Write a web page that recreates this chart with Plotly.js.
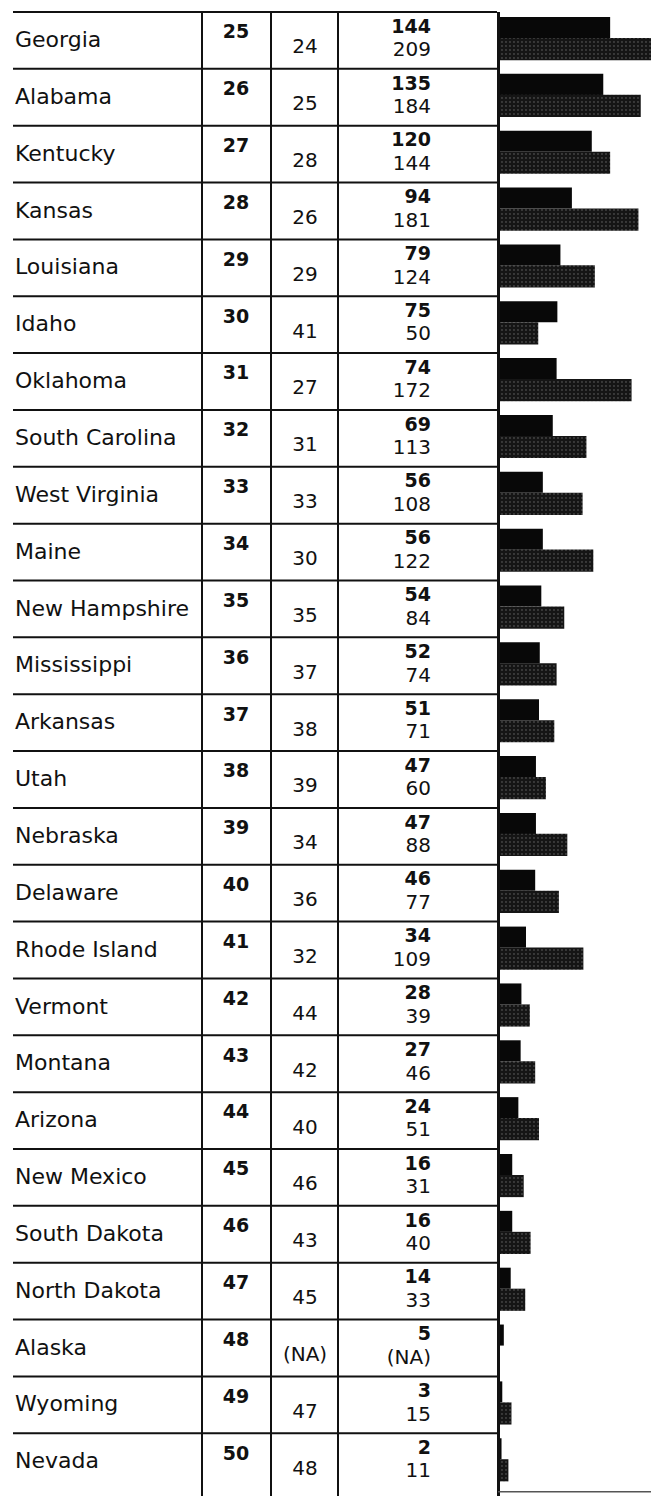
<!DOCTYPE html>
<html>
<head>
<meta charset="utf-8">
<script src="https://cdn.plot.ly/plotly-3.0.1.min.js"></script>
<style>
  html, body { margin: 0; padding: 0; background: #ffffff; }
  #chart { width: 651px; height: 1496px; }
</style>
</head>
<body>
<div id="chart"></div>
<script>
// ---------------- DATA ----------------
const states = ["Georgia", "Alabama", "Kentucky", "Kansas", "Louisiana", "Idaho", "Oklahoma",
  "South Carolina", "West Virginia", "Maine", "New Hampshire", "Mississippi", "Arkansas", "Utah",
  "Nebraska", "Delaware", "Rhode Island", "Vermont", "Montana", "Arizona", "New Mexico",
  "South Dakota", "North Dakota", "Alaska", "Wyoming", "Nevada"];
const rank = [25, 26, 27, 28, 29, 30, 31, 32, 33, 34, 35, 36, 37, 38, 39, 40, 41, 42, 43, 44, 45, 46, 47, 48, 49, 50];
const prevRank = [24, 25, 28, 26, 29, 41, 27, 31, 33, 30, 35, 37, 38, 39, 34, 36, 32, 44, 42, 40, 46, 43, 45, null, 47, 48];
const current = [144, 135, 120, 94, 79, 75, 74, 69, 56, 56, 54, 52, 51, 47, 47, 46, 34, 28, 27, 24, 16, 16, 14, 5, 3, 2];
const previous = [209, 184, 144, 181, 124, 50, 172, 113, 108, 122, 84, 74, 71, 60, 88, 77, 109, 39, 46, 51, 31, 40, 33, null, 15, 11];

// ---------------- BUILD ----------------
const n = states.length;
const idx = states.map((_, i) => i);
const fmt = v => (v === null ? "(NA)" : String(v));
const INK = "#111111";
const FONT = "DejaVu Sans, Arial, sans-serif";

function textTrace(xPos, yShift, labels, pos, size, weight) {
  return {
    type: "scatter", mode: "text", xaxis: "x", yaxis: "y",
    x: idx.map(() => xPos), y: idx.map(i => i + yShift),
    text: labels, textposition: pos, cliponaxis: false, hoverinfo: "skip",
    textfont: { family: FONT, size: size, color: INK, weight: weight }
  };
}

const traces = [
  { type: "bar", orientation: "h", x: current, y: idx, xaxis: "x2", yaxis: "y",
    width: 0.37, offset: -0.412, hoverinfo: "skip",
    marker: { color: "#080808", line: { width: 0 } } },
  { type: "bar", orientation: "h", x: previous, y: idx, xaxis: "x2", yaxis: "y",
    width: 0.39, offset: -0.043, hoverinfo: "skip",
    marker: { color: "#1a1a1a", line: { width: 0 },
      pattern: { shape: ".", fgcolor: "#6e6e6e", bgcolor: "#151515", size: 4, solidity: 0.1 } } },
  textTrace(15, 0.02, states, "middle right", 22, 400),
  textTrace(236, -0.12, rank.map(fmt), "middle center", 19, 700),
  textTrace(305, 0.14, prevRank.map(fmt), "middle center", 20, 400),
  textTrace(431, -0.22, current.map(fmt), "middle left", 19, 700),
  textTrace(431, 0.19, previous.map(fmt), "middle left", 20, 400)
];

// table rules
const shapes = [];
const yBottom = 25.62;
for (let i = 0; i < n; i++) {
  shapes.push({ type: "line", xref: "x", yref: "y", x0: 13, x1: 497, y0: i - 0.5, y1: i - 0.5,
    line: { color: INK, width: 2 }, layer: "above" });
}
[202, 271, 338].forEach(xv => shapes.push({ type: "line", xref: "x", yref: "y",
  x0: xv, x1: xv, y0: -0.5, y1: yBottom, line: { color: INK, width: 2 }, layer: "above" }));
shapes.push({ type: "line", xref: "x", yref: "y", x0: 498.5, x1: 498.5, y0: -0.5, y1: yBottom,
  line: { color: INK, width: 3 }, layer: "above" });
shapes.push({ type: "line", xref: "x", yref: "y", x0: 498, x1: 651, y0: 25.53, y1: 25.53,
  line: { color: "#555555", width: 1.5 }, layer: "above" });

const layout = {
  width: 651, height: 1496,
  margin: { l: 0, r: 0, t: 0, b: 0, pad: 0 },
  paper_bgcolor: "#ffffff", plot_bgcolor: "rgba(0,0,0,0)",
  showlegend: false, hovermode: false,
  xaxis: { domain: [0, 1], range: [0, 651], visible: false, fixedrange: true, anchor: "y" },
  xaxis2: { domain: [500 / 651, 1], range: [0, 197.4], visible: false, fixedrange: true, anchor: "y" },
  yaxis: { domain: [0, 1], range: [25.604, -0.711], visible: false, fixedrange: true, anchor: "x" },
  shapes: shapes
};

Plotly.newPlot("chart", traces, layout, { staticPlot: true, displayModeBar: false });
</script>
</body>
</html>
